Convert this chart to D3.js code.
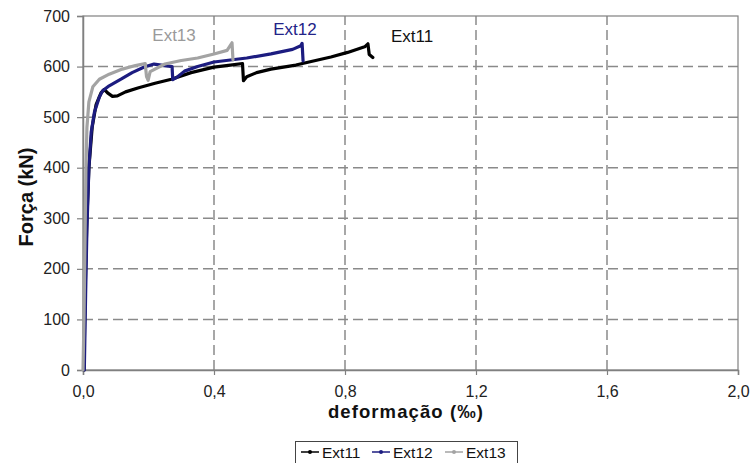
<!DOCTYPE html>
<html>
<head>
<meta charset="utf-8">
<script src="https://cdn.jsdelivr.net/npm/d3@7"></script>
<style>
  html, body { margin: 0; padding: 0; background: #fff; }
  svg { display: block; font-family: "Liberation Sans", Arial, sans-serif; }
</style>
</head>
<body>
<svg id="chart" width="752" height="463"></svg>
<script>
// Force–strain curves for three extensometers (deformação in ‰, força in kN)
const ext11 = [
  [0.003, 0], [0.005, 100], [0.008, 200], [0.012, 300], [0.018, 400], [0.028, 480],
  [0.040, 525], [0.055, 548], [0.065, 555], [0.075, 548], [0.090, 541], [0.105, 542],
  [0.130, 550], [0.170, 558], [0.220, 567], [0.270, 575], [0.330, 588], [0.400, 599],
  [0.450, 603], [0.487, 606], [0.490, 572], [0.500, 580], [0.530, 588], [0.574, 595],
  [0.650, 603], [0.757, 619], [0.808, 628], [0.860, 639], [0.870, 645], [0.874, 624],
  [0.885, 618]
];
const ext12 = [
  [0.004, 0], [0.008, 150], [0.012, 280], [0.018, 400], [0.025, 470], [0.035, 510],
  [0.050, 540], [0.060, 552], [0.080, 562], [0.116, 575], [0.150, 588], [0.187, 599],
  [0.217, 605], [0.250, 602], [0.272, 600], [0.274, 574], [0.285, 578], [0.310, 591],
  [0.350, 600], [0.400, 609], [0.500, 617], [0.574, 625], [0.640, 634], [0.665, 641],
  [0.669, 646], [0.672, 611]
];
const ext13 = [
  [0.000, 0], [0.003, 100], [0.005, 200], [0.007, 300], [0.009, 400], [0.012, 480],
  [0.018, 530], [0.030, 560], [0.050, 575], [0.080, 585], [0.120, 595], [0.160, 602],
  [0.190, 606], [0.194, 580], [0.199, 573], [0.205, 590], [0.250, 605], [0.300, 612],
  [0.350, 617], [0.400, 625], [0.440, 632], [0.455, 647], [0.458, 613]
];

const seriesNames = ["Ext11", "Ext12", "Ext13"];
const seriesData = [ext11, ext12, ext13];
const seriesColors = ["#000000", "#1c1c80", "#a3a3a3"];
const labelColors = ["#111111", "#232388", "#9a9a9a"];
// in-plot series labels: [deformação, força] anchor of the text
const labelAnchors = [[1.005, 648], [0.647, 662], [0.278, 650]];

const xTicks = [0, 0.4, 0.8, 1.2, 1.6, 2.0];
const yTicks = [0, 100, 200, 300, 400, 500, 600, 700];

const svg = d3.select("#chart");
const x = d3.scaleLinear().domain([0, 2]).range([83, 738]);
const y = d3.scaleLinear().domain([0, 700]).range([370, 16]);

const ptBR = d3.formatLocale({ decimal: ",", thousands: ".", grouping: [3], currency: ["R$", ""] });
const fmtX = ptBR.format(".1f");

const gridColor = "#8a8a8a";
const frameColor = "#808080";

// dashed grid
svg.append("g").selectAll("line.hg")
  .data(yTicks.filter(d => d > 0 && d < 700))
  .join("line")
  .attr("x1", x(0)).attr("x2", x(2))
  .attr("y1", d => y(d)).attr("y2", d => y(d))
  .attr("stroke", gridColor).attr("stroke-width", 1.5)
  .attr("stroke-dasharray", "10,5");

svg.append("g").selectAll("line.vg")
  .data(xTicks.filter(d => d > 0 && d < 2))
  .join("line")
  .attr("x1", d => x(d)).attr("x2", d => x(d))
  .attr("y1", y(0)).attr("y2", y(700))
  .attr("stroke", gridColor).attr("stroke-width", 1.5)
  .attr("stroke-dasharray", "10,5");

// plot frame
svg.append("rect")
  .attr("x", x(0)).attr("y", y(700))
  .attr("width", x(2) - x(0)).attr("height", y(0) - y(700))
  .attr("fill", "none").attr("stroke", frameColor).attr("stroke-width", 1.2);

// axes
const yAxis = svg.append("g")
  .attr("transform", `translate(${x(0)},0)`)
  .call(d3.axisLeft(y).tickValues(yTicks).tickSize(6).tickPadding(7).tickFormat(d3.format("d")));
const xAxis = svg.append("g")
  .attr("transform", `translate(0,${y(0)})`)
  .call(d3.axisBottom(x).tickValues(xTicks).tickSize(5).tickPadding(11).tickFormat(fmtX));

[yAxis, xAxis].forEach(g => {
  g.select(".domain").attr("stroke", frameColor).attr("stroke-width", 1.5);
  g.selectAll(".tick line").attr("stroke", frameColor).attr("stroke-width", 1.2);
  g.selectAll(".tick text")
    .attr("fill", "#222")
    .style("font-size", "16px")
    .style("font-family", "'Liberation Sans', Arial, sans-serif");
});

// curves
const line = d3.line().x(d => x(d[0])).y(d => y(d[1]));
svg.append("g").selectAll("path")
  .data(seriesData)
  .join("path")
  .attr("d", line)
  .attr("fill", "none")
  .attr("stroke", (d, i) => seriesColors[i])
  .attr("stroke-width", 3.2)
  .attr("stroke-linejoin", "round")
  .attr("stroke-linecap", "round");

// series labels inside the plot
svg.append("g").selectAll("text")
  .data(seriesNames)
  .join("text")
  .attr("x", (d, i) => x(labelAnchors[i][0]))
  .attr("y", (d, i) => y(labelAnchors[i][1]))
  .attr("text-anchor", "middle")
  .attr("fill", (d, i) => labelColors[i])
  .style("font-size", "17px")
  .text(d => d);

// axis titles
svg.append("text")
  .attr("x", 406).attr("y", 418)
  .attr("text-anchor", "middle")
  .attr("fill", "#111")
  .style("font-size", "18.5px").style("font-weight", "bold")
  .style("letter-spacing", "1.1px")
  .text("deformação (‰)");

svg.append("text")
  .attr("transform", "translate(33,197) rotate(-90)")
  .attr("text-anchor", "middle")
  .attr("fill", "#111")
  .style("font-size", "20px").style("font-weight", "bold")
  .text("Força (kN)");

// legend
const legend = svg.append("g");
legend.append("rect")
  .attr("x", 295.5).attr("y", 441.5).attr("width", 222).attr("height", 30)
  .attr("fill", "#fff").attr("stroke", "#444").attr("stroke-width", 1);

const legendX = [301, 372, 445];
const item = legend.selectAll("g.item")
  .data(seriesNames)
  .join("g")
  .attr("transform", (d, i) => `translate(${legendX[i]},452)`);
item.append("line")
  .attr("x1", 0).attr("x2", 18).attr("y1", 0).attr("y2", 0)
  .attr("stroke", (d, i) => seriesColors[i]).attr("stroke-width", 1.5);
item.append("circle")
  .attr("cx", 9).attr("cy", 0).attr("r", 2)
  .attr("fill", (d, i) => seriesColors[i]);
item.append("text")
  .attr("x", 21).attr("y", 0).attr("dy", "0.36em")
  .attr("fill", "#111")
  .style("font-size", "15.5px")
  .text(d => d);
</script>
</body>
</html>
